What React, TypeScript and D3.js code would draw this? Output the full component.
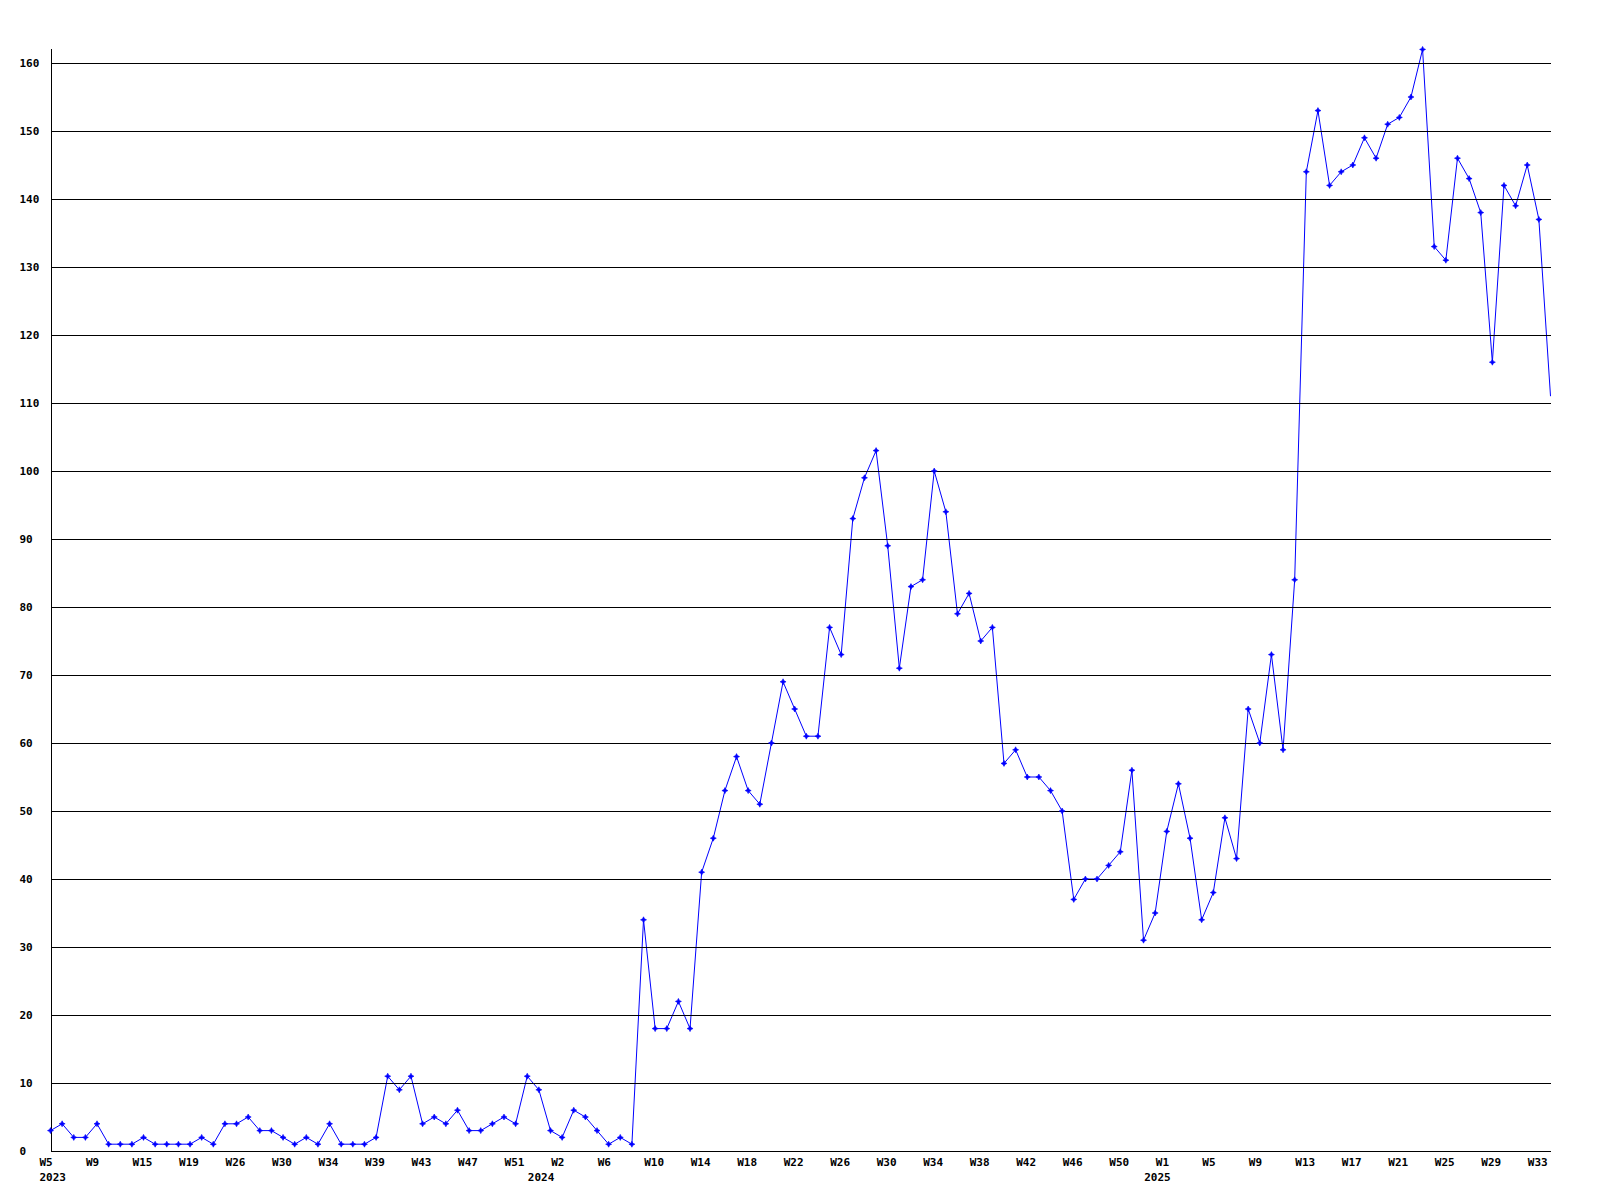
import React from "react";
import * as d3 from "d3";

// Weekly values, one per point (2023 W5 .. 2025 W34)
const values: number[] = [
  3, 4, 2, 2, 4, 1, 1, 1, 2, 1, 1, 1, 1, 2, 1, 4, 4, 5, 3, 3,
  2, 1, 2, 1, 4, 1, 1, 1, 2, 11, 9, 11, 4, 5, 4, 6, 3, 3, 4, 5,
  4, 11, 9, 3, 2, 6, 5, 3, 1, 2, 1, 34, 18, 18, 22, 18, 41, 46, 53, 58,
  53, 51, 60, 69, 65, 61, 61, 77, 73, 93, 99, 103, 89, 71, 83, 84, 100, 94, 79, 82,
  75, 77, 57, 59, 55, 55, 53, 50, 37, 40, 40, 42, 44, 56, 31, 35, 47, 54, 46, 34,
  38, 49, 43, 65, 60, 73, 59, 84, 144, 153, 142, 144, 145, 149, 146, 151, 152, 155, 162, 133,
  131, 146, 143, 138, 116, 142, 139, 145, 137, 111,
];

// Tick labels shown on every 4th point
const tickLabels: string[] = [
  "W5", "W9", "W15", "W19", "W26", "W30", "W34", "W39", "W43", "W47", "W51",
  "W2", "W6", "W10", "W14", "W18", "W22", "W26", "W30", "W34", "W38", "W42", "W46", "W50",
  "W1", "W5", "W9", "W13", "W17", "W21", "W25", "W29", "W33",
];
const tickEvery = 4;

// Year labels and the point index where each year begins
const yearLabels: string[] = ["2023", "2024", "2025"];
const yearStart: number[] = [0, 42, 95];

const yTicks: number[] = [0, 10, 20, 30, 40, 50, 60, 70, 80, 90, 100, 110, 120, 130, 140, 150, 160];

const W = 1600;
const H = 1200;
const left = 50.5;
const right = 1550.5;
const bottom = 1151;
const pxPerUnit = 6.8;

export default function App() {
  const yMax = d3.max(values) as number;
  const x = d3.scaleLinear().domain([0, values.length - 1]).range([left, right]);
  const y = d3.scaleLinear().domain([0, yMax]).range([bottom, bottom - yMax * pxPerUnit]);

  const line = d3
    .line<number>()
    .x((_, i) => x(i))
    .y((d) => y(d));

  const crisp = (v: number) => Math.round(v) + 0.5;
  const font = "'DejaVu Sans Mono', monospace";
  const marker = "M0,-3L1,-1L3,0L1,1L0,3L-1,1L-3,0L-1,-1Z";

  return (
    <svg
      width={W}
      height={H}
      style={{ position: "absolute", left: 0, top: 0, display: "block", background: "#fff" }}
    >
      <rect x={0} y={0} width={W} height={H} fill="#fff" />
      <path d={line(values) || ""} fill="none" stroke="#0000ff" strokeWidth={1} />
      {yTicks.map((t) => (
        <line
          key={"g" + t}
          x1={left}
          x2={right}
          y1={crisp(y(t))}
          y2={crisp(y(t))}
          stroke="#000"
          strokeWidth={1}
          shapeRendering="crispEdges"
        />
      ))}
      <line
        x1={crisp(left)}
        x2={crisp(left)}
        y1={y(yMax)}
        y2={bottom + 0.5}
        stroke="#000"
        strokeWidth={1}
        shapeRendering="crispEdges"
      />
      {values.slice(0, values.length - 1).map((v, i) => (
        <path key={"m" + i} d={marker} transform={`translate(${x(i)},${y(v)})`} fill="#0000ff" stroke="#0000ff" strokeWidth={0.6} />
      ))}
      {yTicks.map((t) => (
        <text
          key={"yl" + t}
          x={19.5}
          y={y(t)}
          dy="0.35em"
          fontFamily={font}
          fontWeight="bold"
          fontSize={11}
          fill="#000"
        >
          {t}
        </text>
      ))}
      {tickLabels.map((lab, k) => (
        <text
          key={"xl" + k}
          x={x(k * tickEvery) - 11}
          y={1166}
          fontFamily={font}
          fontWeight="bold"
          fontSize={11}
          fill="#000"
        >
          {lab}
        </text>
      ))}
      {yearLabels.map((yr, k) => (
        <text
          key={"yr" + yr}
          x={x(yearStart[k]) - 11}
          y={1181}
          fontFamily={font}
          fontWeight="bold"
          fontSize={11}
          fill="#000"
        >
          {yr}
        </text>
      ))}
    </svg>
  );
}
